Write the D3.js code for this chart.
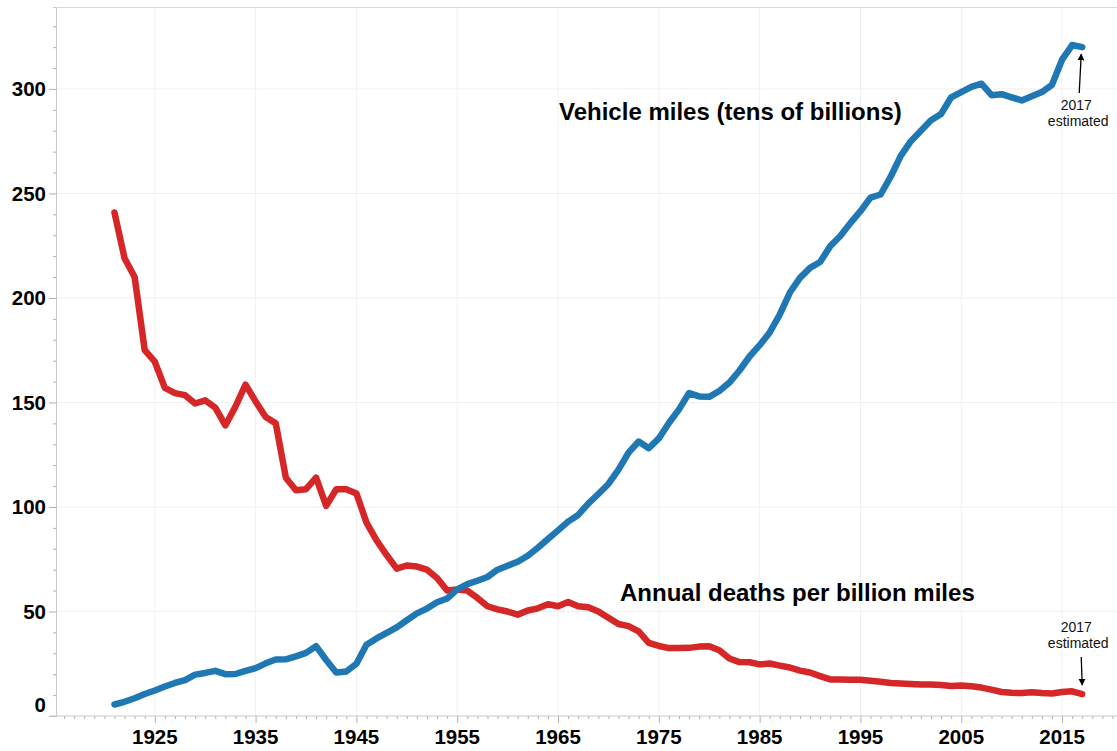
<!DOCTYPE html>
<html>
<head>
<meta charset="utf-8">
<script src="https://cdn.jsdelivr.net/npm/d3@7"></script>
<style>
  body { margin: 0; background: #fff; }
  text { font-family: "Liberation Sans", Arial, sans-serif; }
</style>
</head>
<body>
<div id="chart"></div>
<script>
// 1117 x 751

var years = [
  1921, 1922, 1923, 1924, 1925, 1926, 1927, 1928, 1929, 1930,
  1931, 1932, 1933, 1934, 1935, 1936, 1937, 1938, 1939, 1940,
  1941, 1942, 1943, 1944, 1945, 1946, 1947, 1948, 1949, 1950,
  1951, 1952, 1953, 1954, 1955, 1956, 1957, 1958, 1959, 1960,
  1961, 1962, 1963, 1964, 1965, 1966, 1967, 1968, 1969, 1970,
  1971, 1972, 1973, 1974, 1975, 1976, 1977, 1978, 1979, 1980,
  1981, 1982, 1983, 1984, 1985, 1986, 1987, 1988, 1989, 1990,
  1991, 1992, 1993, 1994, 1995, 1996, 1997, 1998, 1999, 2000,
  2001, 2002, 2003, 2004, 2005, 2006, 2007, 2008, 2009, 2010,
  2011, 2012, 2013, 2014, 2015, 2016, 2017
];

// vehicle miles, tens of billions
var vehicleMiles = [
  5.5, 6.8, 8.5, 10.5, 12.2, 14.1, 15.8, 17.2, 19.8, 20.6,
  21.6, 20.0, 20.1, 21.6, 22.9, 25.2, 27.0, 27.1, 28.5, 30.2,
  33.4, 26.8, 20.8, 21.3, 25.0, 34.1, 37.1, 39.8, 42.4, 45.8,
  49.1, 51.4, 54.4, 56.2, 60.6, 63.1, 64.7, 66.5, 70.0, 71.9,
  73.8, 76.7, 80.5, 84.7, 88.8, 93.0, 96.2, 101.6, 106.2, 111.0,
  117.9, 126.0, 131.3, 128.1, 132.8, 140.2, 146.7, 154.5, 152.9, 152.7,
  155.5, 159.5, 165.3, 172.0, 177.4, 183.5, 192.1, 202.6, 209.6, 214.4,
  217.2, 224.7, 229.6, 235.8, 241.5, 248.0, 249.5, 258.0, 268.0, 275.0,
  280.0, 285.0, 288.0, 296.0, 298.5, 301.0, 302.5, 297.0, 297.5, 296.0,
  294.5, 296.5, 298.5, 302.0, 314.0, 321.0, 320.0
];

// deaths per billion vehicle miles
var deathRate = [
  240.9, 219.0, 210.0, 175.0, 169.5, 157.0, 154.5, 153.5, 149.5, 151.0,
  147.5, 139.0, 148.0, 158.5, 150.5, 143.0, 140.0, 114.0, 108.0, 108.5,
  114.0, 100.5, 108.5, 108.5, 106.5, 92.5, 84.0, 77.0, 70.5, 72.0,
  71.5, 70.0, 66.0, 60.0, 60.5, 60.0, 56.5, 52.5, 51.0, 50.0,
  48.5, 50.5, 51.5, 53.5, 52.5, 54.5, 52.5, 52.0, 50.0, 47.0,
  44.0, 43.0, 40.5, 35.0, 33.5, 32.5, 32.5, 32.6, 33.2, 33.4,
  31.5, 27.5, 25.8, 25.7, 24.7, 25.1, 24.1, 23.2, 21.7, 20.8,
  19.1, 17.5, 17.5, 17.3, 17.3, 16.9, 16.4, 15.8, 15.5, 15.3,
  15.1, 15.1, 14.8, 14.4, 14.6, 14.2, 13.6, 12.6, 11.5, 11.1,
  11.0, 11.4, 11.0, 10.8, 11.5, 11.8, 10.5
];

var yTicks = [0, 50, 100, 150, 200, 250, 300];
var xTicks = [1925, 1935, 1945, 1955, 1965, 1975, 1985, 1995, 2005, 2015];

var labelMiles = "Vehicle miles (tens of billions)";
var labelDeaths = "Annual deaths per billion miles";
var noteLines = ["2017", "estimated"];

var width = 1117, height = 751;
// plot box ("top" is taken by window.top)
var plotLeft = 56, plotTop = 7, plotBottom = 716;

var svg = d3.select('#chart').append('svg')
    .attr('width', width)
    .attr('height', height);

var x = d3.scaleLinear()
    .domain([1915.2, 2020.45])
    .range([plotLeft, width]);

var y = d3.scaleLinear()
    .domain([0, 339.2])
    .range([plotBottom, plotTop]);

// gridlines
svg.append('g')
    .selectAll('line')
    .data(xTicks)
    .enter().append('line')
        .attr('x1', d => x(d)).attr('x2', d => x(d))
        .attr('y1', plotTop).attr('y2', plotBottom)
        .style('stroke', '#f0f0f0');

svg.append('g')
    .selectAll('line')
    .data(yTicks.slice(1))
    .enter().append('line')
        .attr('x1', plotLeft).attr('x2', width)
        .attr('y1', d => y(d)).attr('y2', d => y(d))
        .style('stroke', '#f0f0f0');

// top border
svg.append('line')
    .attr('x1', plotLeft).attr('x2', width)
    .attr('y1', plotTop + 0.5).attr('y2', plotTop + 0.5)
    .style('stroke', '#d9d9d9');

// y axis: major ticks at 50, minor every 10
var yAxis = svg.append('g')
    .attr('transform', 'translate(' + plotLeft + ',0)')
    .call(d3.axisLeft(y)
        .tickValues(d3.range(0, 340, 10))
        .tickSize(3)
        .tickFormat(''));
yAxis.select('.domain').style('stroke', '#c8c8c8');
yAxis.selectAll('.tick line')
    .style('stroke', '#b0b0b0')
    .attr('x2', d => d % 50 === 0 ? -7 : -3);

svg.append('g')
    .selectAll('text')
    .data(yTicks)
    .enter().append('text')
        .attr('x', 46)
        .attr('y', d => d === 0 ? y(d) - 11 : y(d))
        .attr('dy', '0.36em')
        .attr('text-anchor', 'end')
        .attr('font-size', '20.5px')
        .attr('font-weight', 'bold')
        .text(d => d);

// x axis: a tick per year, labels every decade
var xAxis = svg.append('g')
    .attr('transform', 'translate(0,' + plotBottom + ')')
    .call(d3.axisBottom(x)
        .tickValues(d3.range(1916, 2021))
        .tickSize(3)
        .tickFormat(''));
xAxis.select('.domain').remove();
xAxis.append('line')
    .attr('x1', 50).attr('x2', width)
    .style('stroke', '#c8c8c8');
xAxis.selectAll('.tick line')
    .style('stroke', '#b0b0b0')
    .attr('y2', d => (d - 1915) % 10 === 0 ? 7 : 3);

svg.append('g')
    .selectAll('text')
    .data(xTicks)
    .enter().append('text')
        .attr('x', d => x(d))
        .attr('y', 744)
        .attr('text-anchor', 'middle')
        .attr('font-size', '20.5px')
        .attr('font-weight', 'bold')
        .text(d => d);

// lines
var seriesLine = d3.line()
    .x((d, i) => x(years[i]))
    .y(d => y(d));

svg.append('path')
    .datum(deathRate)
    .attr('d', seriesLine)
    .style('fill', 'none')
    .style('stroke', '#d62728')
    .style('stroke-width', 6.5)
    .style('stroke-linejoin', 'round')
    .style('stroke-linecap', 'round');

svg.append('path')
    .datum(vehicleMiles)
    .attr('d', seriesLine)
    .style('fill', 'none')
    .style('stroke', '#1f77b4')
    .style('stroke-width', 6.5)
    .style('stroke-linejoin', 'round')
    .style('stroke-linecap', 'round');

// series labels
svg.append('text')
    .attr('x', 559).attr('y', 120)
    .attr('font-size', '24px')
    .attr('font-weight', 'bold')
    .text(labelMiles);

svg.append('text')
    .attr('x', 620).attr('y', 601)
    .attr('font-size', '24px')
    .attr('font-weight', 'bold')
    .text(labelDeaths);

// "2017 estimated" notes with arrows
svg.append('defs').append('marker')
    .attr('id', 'head')
    .attr('viewBox', '0 0 10 10')
    .attr('refX', 9).attr('refY', 5)
    .attr('markerWidth', 7).attr('markerHeight', 8)
    .attr('markerUnits', 'userSpaceOnUse')
    .attr('orient', 'auto')
    .append('path')
        .attr('d', 'M0,0L10,5L0,10Z')
        .attr('fill', '#000');

var lastX = x(years[years.length - 1]);

function note(cx, ty, x1, y1, x2, y2) {
    svg.append('g')
        .selectAll('text')
        .data(noteLines)
        .enter().append('text')
            .attr('x', (d, i) => cx + i * 2)
            .attr('y', (d, i) => ty + i * 16)
            .attr('text-anchor', 'middle')
            .attr('font-size', '14px')
            .attr('fill', '#111')
            .text(d => d);
    svg.append('line')
        .attr('x1', x1).attr('y1', y1)
        .attr('x2', x2).attr('y2', y2)
        .style('stroke', '#000')
        .style('stroke-width', 1.3)
        .attr('marker-end', 'url(#head)');
}

note(lastX - 6, 110, lastX - 3, 93, lastX - 1, y(vehicleMiles[vehicleMiles.length - 1]) + 7);
note(lastX - 6, 632, lastX - 1, 657, lastX, y(deathRate[deathRate.length - 1]) - 9);
</script>
</body>
</html>
